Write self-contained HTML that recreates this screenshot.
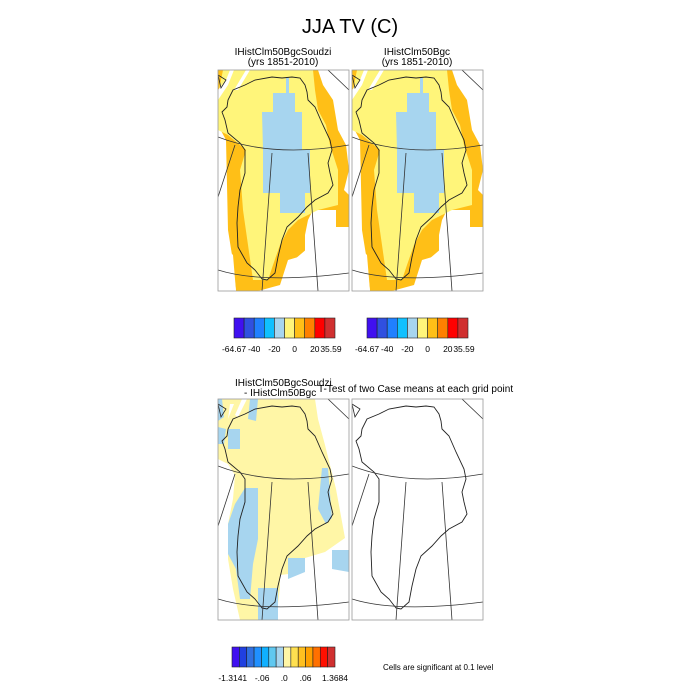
<!DOCTYPE html>
<html><head><meta charset="utf-8">
<style>
html,body{margin:0;padding:0;background:#fff;}
svg{display:block;font-family:"Liberation Sans",sans-serif;}
</style></head>
<body>
<svg width="700" height="700" viewBox="0 0 700 700">
<defs>
  <clipPath id="cp"><rect x="0" y="0" width="131" height="221"/></clipPath>
  <g id="coast">
    <path d="M4,42 L9,37 L10,30 L15,20 L27,15 L37,10 L54,7 L64,8 L74,7 L82,8 L87,15 L89,22 L90,30 L97,37 L104,53 L112,70 L114,80 L110,93 L112,103 L115,115 L110,123 L97,130 L89,137 L80,147 L69,157 L64,170 L60,187 L57,203 L49,210 L44,209 L37,200 L29,193 L20,177 L19,153 L20,137 L22,120 L27,103 L27,80 L22,73 L10,63 L7,50 Z" fill="none" stroke="#222" stroke-width="0.9"/>
    <path d="M0,5 L8,10 L3,18 Z" fill="none" stroke="#222" stroke-width="0.8"/>
    <path d="M0,67 Q54,88 131,75" fill="none" stroke="#333" stroke-width="0.8"/>
    <path d="M0,200 Q44,214 131,203" fill="none" stroke="#333" stroke-width="0.8"/>
    <path d="M54,83 L44,221 M90,83 L100,221 M0,127 L17,75 M110,0 L131,20" fill="none" stroke="#333" stroke-width="0.8"/>
  </g>
  <g id="topfield">
    <path d="M0,0 L100,0 L105,15 L115,30 L120,60 L128,75 L131,100 L126,120 L131,125 L131,157 L118,157 L118,140 L95,140 L90,150 L87,165 L87,185 L70,190 L62,215 L40,221 L18,221 L14,185 L10,160 L8,70 L0,55 Z" fill="#ffbf17"/>
    <path d="M5,0 L95,0 L97,20 L100,40 L108,55 L112,75 L120,100 L120,135 L100,140 L80,150 L70,160 L62,175 L55,195 L50,210 L35,210 L30,175 L25,140 L22,100 L28,80 L10,65 L0,60 L0,25 Z" fill="#fff57a"/>
    <path d="M68,8 L71,8 L71,23 L77,23 L77,42 L84,42 L84,80 L92,80 L92,123 L87,123 L87,143 L62,143 L62,123 L45,123 L45,80 L44,42 L55,42 L55,23 L68,23 Z" fill="#a7d5ef"/>
    <path d="M126,167 L131,165 L131,183 L126,180 Z" fill="#ff6f00"/>
    <path d="M0,20 L8,10 L12,0 L16,0 L10,15 L0,30 Z M28,0 L32,0 L20,20 L16,20 Z" fill="#fff"/>
    <path d="M0,170 L15,185 L18,221 L0,221 Z M90,178 L120,160 L131,160 L131,221 L65,221 L70,195 Z" fill="#fff"/>
  </g>
</defs>

<text x="350" y="33" font-size="20" text-anchor="middle">JJA TV (C)</text>

<text x="283" y="55" font-size="10" text-anchor="middle">IHistClm50BgcSoudzi</text>
<text x="283" y="65" font-size="10" text-anchor="middle">(yrs 1851-2010)</text>
<text x="417" y="55" font-size="10" text-anchor="middle">IHistClm50Bgc</text>
<text x="417" y="65" font-size="10" text-anchor="middle">(yrs 1851-2010)</text>

<g transform="translate(218,70)">
  <g clip-path="url(#cp)"><use href="#topfield"/><use href="#coast"/></g>
  <rect x="0" y="0" width="131" height="221" fill="none" stroke="#999" stroke-width="0.8"/>
</g>
<g transform="translate(352,70)">
  <g clip-path="url(#cp)"><use href="#topfield"/><use href="#coast"/></g>
  <rect x="0" y="0" width="131" height="221" fill="none" stroke="#999" stroke-width="0.8"/>
</g>

<g id="cb1" transform="translate(234,318)"></g>
<g id="cb2" transform="translate(367,318)"></g>

<text x="235" y="386" font-size="10">IHistClm50BgcSoudzi</text>
<text x="244" y="396" font-size="10">- IHistClm50Bgc</text>
<text x="318" y="392" font-size="10">T-Test of two Case means at each grid point</text>

<g transform="translate(218,399)">
  <g clip-path="url(#cp)">
    <path d="M0,0 L97,0 L100,20 L107,46 L118,90 L127,139 L107,153 L87,159 L87,173 L62,176 L62,189 L59,213 L45,221 L22,221 L15,190 L10,160 L10,125 L15,100 L17,76 L10,65 L0,60 Z" fill="#fff6a6"/>
    <path d="M0,0 L4,0 L6,18 L0,22 Z M32,0 L40,0 L38,22 L30,20 Z M10,30 L22,30 L22,50 L10,50 Z M0,28 L8,30 L6,45 L0,45 Z" fill="#a7d5ef"/>
    <path d="M12,5 L16,5 L10,20 Z M24,0 L29,0 L20,18 L17,16 Z" fill="#fff"/>
    <path d="M27,89 L40,89 L40,140 L35,165 L32,200 L22,200 L18,170 L10,155 L10,125 L17,105 Z" fill="#a7d5ef"/>
    <path d="M104,69 L110,69 L114,119 L108,125 L100,110 Z" fill="#a7d5ef"/>
    <path d="M70,159 L87,159 L87,173 L70,180 Z" fill="#a7d5ef"/>
    <path d="M40,189 L60,189 L60,221 L40,221 Z" fill="#a7d5ef"/>
    <path d="M114,151 L131,151 L131,173 L114,170 Z" fill="#a7d5ef"/>
    <use href="#coast"/>
  </g>
  <rect x="0" y="0" width="131" height="221" fill="none" stroke="#999" stroke-width="0.8"/>
</g>
<g transform="translate(352,399)">
  <g clip-path="url(#cp)"><use href="#coast"/></g>
  <rect x="0" y="0" width="131" height="221" fill="none" stroke="#999" stroke-width="0.8"/>
</g>

<g id="cb3" transform="translate(232,647)"></g>
<text x="383" y="670" font-size="8">Cells are significant at 0.1 level</text>

<script>
const topColors = ["#4010f0","#3050e0","#2080ff","#10c0ff","#a7d5ef","#fff57a","#ffbf17","#ff8000","#ff0000","#d03030"];
const topLabels = ["-64.67","-40","-20","0","20","35.59"];
const topLabelIdx = [0,2,4,6,8,9.6];
const diffColors = ["#4010f0","#2040e0","#3070e0","#2090ff","#10b0ff","#60c8f0","#a7d5ef","#fff6a6","#ffe050","#ffc020","#ffa000","#ff7000","#ff1000","#d03030"];
const diffLabels = ["-1.3141","-.06",".0",".06","1.3684"];
const diffLabelIdx = [0.1,4.1,7.1,10,14];
const NS="http://www.w3.org/2000/svg";
function bar(id, colors, labels, idx, w){
  const g=document.getElementById(id);
  const bw=w/colors.length;
  colors.forEach((c,i)=>{
    const r=document.createElementNS(NS,'rect');
    
    
    r.setAttribute('x',i*bw);r.setAttribute('y',0);r.setAttribute('width',bw);r.setAttribute('height',20);
    r.setAttribute('fill',c);r.setAttribute('stroke','#222');r.setAttribute('stroke-width','0.6');
    g.appendChild(r);
  });
  labels.forEach((l,i)=>{
    const t=document.createElementNS(NS,'text');
    
    
    t.setAttribute('x',idx[i]*bw);t.setAttribute('y',34);t.setAttribute('font-size','8.5');
    t.setAttribute('text-anchor','middle');t.textContent=l;g.appendChild(t);
  });
}
bar('cb1',topColors,topLabels,topLabelIdx,101);
bar('cb2',topColors,topLabels,topLabelIdx,101);
bar('cb3',diffColors,diffLabels,diffLabelIdx,103);
</script>
</svg>
</body></html>
